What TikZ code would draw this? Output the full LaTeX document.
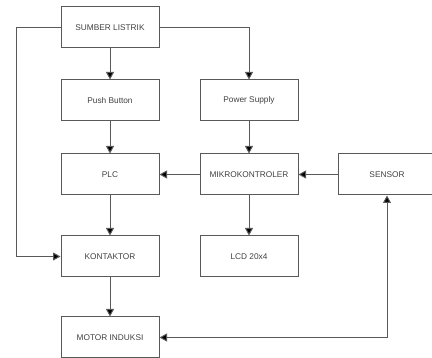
\documentclass[tikz,border=0pt]{standalone}
\usepackage{fontspec}
\setmainfont{Liberation Sans}
\usepackage{tikz}
\usetikzlibrary{positioning, calc}
\usetikzlibrary{arrows.meta}

\begin{document}
\begin{tikzpicture}[x=1pt,y=-1pt,-{Triangle[length=7.5pt,width=8pt,fill=black]},draw=black!65,line width=1pt]
	\def \rowone{27.5}
	\def \rowtwo{100.5}
	\def \rowthree{174.5}
	\def \rowfour{256.5}
	\def \rowfive{337.5}
	\def \colone{110}
	\def \coltwo{249}
	\def \colthree{387}
	\tikzstyle{blok}=[rectangle,draw=black!65,line width=1pt,minimum width=98pt,minimum height=41pt,inner sep=0pt,text=black!75,font=\fontsize{8.3}{9}\selectfont]
	\useasboundingbox (0,0) rectangle (432,358);

	% kolom kiri
	\node[blok] 	(sumber)	at (\colone,\rowone)		{SUMBER LISTRIK};
	\node[blok] 	(push)		at (\colone,\rowtwo)		{Push Button};
	\node[blok] 	(plc)		at (\colone,\rowthree)		{PLC};
	\node[blok] 	(kontaktor)	at (\colone,\rowfour)		{KONTAKTOR};
	\node[blok] 	(motor)		at (\colone,\rowfive)		{MOTOR INDUKSI};

	% kolom tengah
	\node[blok] 	(power)		at (\coltwo,\rowtwo)		{Power Supply};
	\node[blok] 	(mikro)		at (\coltwo,\rowthree)		{MIKROKONTROLER};
	\node[blok] 	(lcd)		at (\coltwo,\rowfour)		{LCD 20x4};

	% kolom kanan
	\node[blok] 	(sensor)	at (\colthree,\rowthree)	{SENSOR};

	\coordinate (kiri) at (16,\rowone);
	\coordinate (bawah) at (\colthree,\rowfive);

	\path
		(sumber)	edge	(push)
		(push)		edge	(plc)
		(plc)		edge	(kontaktor)
		(kontaktor)	edge	(motor)
		(power)		edge	(mikro)
		(mikro)		edge	(lcd)
		(mikro)		edge	(plc)
		(sensor)	edge	(mikro);

	\draw (sumber.east) -| (power.north);
	\draw (sumber.west) -- (kiri) |- (kontaktor.west);
	\draw[{Triangle[length=7.5pt,width=8pt,fill=black]}-{Triangle[length=7.5pt,width=8pt,fill=black]}] (motor.east) -- (bawah) -- (sensor.south);

\end{tikzpicture}
\end{document}
